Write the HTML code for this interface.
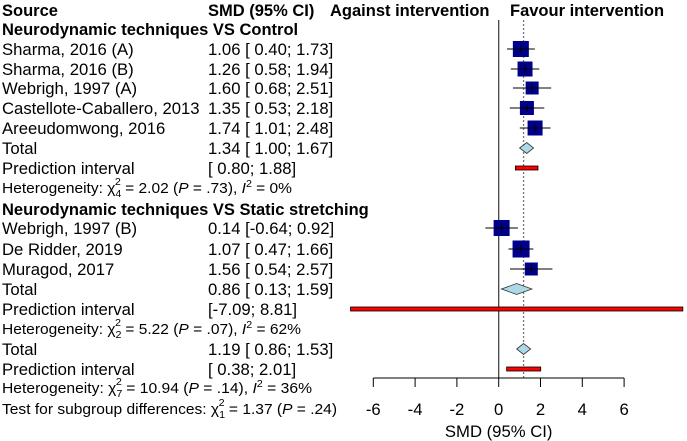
<!DOCTYPE html>
<html><head><meta charset="utf-8"><style>
html,body{margin:0;padding:0;background:#fff;}
svg{display:block;font-family:"Liberation Sans",Arial,sans-serif;}
.t{font-size:16.7px;fill:#000;}
.b{font-size:16.5px;font-weight:bold;fill:#000;}
.s{font-size:14.5px;fill:#000;}
</style></head><body>
<svg id="plot" width="687" height="441" viewBox="0 0 687 441">
<g id="texts"></g>
<g id="marks"></g>
</svg>
<script>
const studyLabels=["Sharma, 2016 (A)","Sharma, 2016 (B)","Webrigh, 1997 (A)","Castellote-Caballero, 2013","Areeudomwong, 2016","Webrigh, 1997 (B)","De Ridder, 2019","Muragod, 2017"];
const studyEst=[1.06,1.26,1.60,1.35,1.74,0.14,1.07,1.56];
const studyLo=[0.40,0.58,0.68,0.53,1.01,-0.64,0.47,0.54];
const studyHi=[1.73,1.94,2.51,2.18,2.48,0.92,1.66,2.57];
const studySize=[16,15,13,14,15,16,17,13];
const studyRowY=[49,69,88,108,128,228,249,269];
const totalEst=[1.34,0.86,1.19];
const totalLo=[1.00,0.13,0.86];
const totalHi=[1.67,1.59,1.53];
const totalRowY=[148,289,349];
const piLo=[0.80,-7.09,0.38];
const piHi=[1.88,8.81,2.01];
const piRowY=[168,309,369];
const overall=1.19;
const ticks=[-6,-4,-2,0,2,4,6];

const NS="http://www.w3.org/2000/svg";
const X0=498.7, SC=20.9, CX=208;
const xs=v=>X0+v*SC;
const T=document.getElementById('texts'), M=document.getElementById('marks');
function el(parent,tag,attrs){const e=document.createElementNS(NS,tag);for(const k in attrs)e.setAttribute(k,attrs[k]);parent.appendChild(e);return e;}
function txt(x,y,cls,str,name){const e=el(T,'text',{x:x,y:y,class:cls});e.innerHTML=str;


return e;}
function het(x,y,len,str,name){const e=el(T,'text',{x:x,y:y,class:'s',textLength:len,lengthAdjust:'spacingAndGlyphs'});e.innerHTML=str;


return e;}
const f=v=>(v<0?'':' ')+v.toFixed(2);
const ci=(e,l,h)=>e.toFixed(2)+' ['+f(l)+'; '+h.toFixed(2)+']';

txt(2,16,'b','Source','source-header');
txt(CX,16,'b','SMD (95% CI)','smd-header');
txt(330,16,'b','Against intervention','against-label');
txt(510,16,'b','Favour intervention','favour-label');
txt(2,35,'b','Neurodynamic techniques VS Control','group1-header');
txt(2,215,'b','Neurodynamic techniques VS Static stretching','group2-header');
studyLabels.forEach((s,i)=>{
 txt(2,studyRowY[i]+6,'t',s,'study-label');
 txt(CX,studyRowY[i]+6,'t',ci(studyEst[i],studyLo[i],studyHi[i]),'study-ci');
});
totalRowY.forEach((y,i)=>{
 txt(2,y+6,'t','Total','total-label');
 txt(CX,y+6,'t',ci(totalEst[i],totalLo[i],totalHi[i]),'total-ci');
 txt(2,piRowY[i]+6,'t','Prediction interval','pi-label');
 txt(CX,piRowY[i]+6,'t','['+f(piLo[i])+'; '+piHi[i].toFixed(2)+']','pi-ci');
});
het(2,193,290,'Heterogeneity: &#967;<tspan dy="4" font-size="10">4</tspan><tspan dx="-6" dy="-12" font-size="10">2</tspan><tspan dy="8"> = 2.02 (</tspan><tspan font-style="italic">P</tspan> = .73), <tspan font-style="italic">I</tspan><tspan dy="-6" font-size="10">2</tspan><tspan dy="6"> = 0%</tspan>','heterogeneity-1');
het(2,334,299,'Heterogeneity: &#967;<tspan dy="4" font-size="10">2</tspan><tspan dx="-6" dy="-12" font-size="10">2</tspan><tspan dy="8"> = 5.22 (</tspan><tspan font-style="italic">P</tspan> = .07), <tspan font-style="italic">I</tspan><tspan dy="-6" font-size="10">2</tspan><tspan dy="6"> = 62%</tspan>','heterogeneity-2');
het(2,393,310,'Heterogeneity: &#967;<tspan dy="4" font-size="10">7</tspan><tspan dx="-6" dy="-12" font-size="10">2</tspan><tspan dy="8"> = 10.94 (</tspan><tspan font-style="italic">P</tspan> = .14), <tspan font-style="italic">I</tspan><tspan dy="-6" font-size="10">2</tspan><tspan dy="6"> = 36%</tspan>','heterogeneity-overall');
het(2,414,335,'Test for subgroup differences: &#967;<tspan dy="4" font-size="10">1</tspan><tspan dx="-6" dy="-12" font-size="10">2</tspan><tspan dy="8"> = 1.37 (</tspan><tspan font-style="italic">P</tspan> = .24)','subgroup-test');

let z=el(M,'line',{x1:xs(0),x2:xs(0),y1:20,y2:378,stroke:'#444','stroke-width':1.3});


let d=el(M,'line',{x1:xs(overall),x2:xs(overall),y1:20,y2:378,stroke:'#777','stroke-width':1.3,'stroke-dasharray':'2,2'});


let ax=el(M,'line',{x1:xs(ticks[0]),x2:xs(ticks[ticks.length-1]),y1:378,y2:378,stroke:'#000','stroke-width':1});


ticks.forEach(t=>{
 const l=el(M,'line',{x1:xs(t),x2:xs(t),y1:378,y2:387,stroke:'#000','stroke-width':1});
 
 
 const tx=el(M,'text',{x:xs(t),y:415,'text-anchor':'middle',class:'t'});tx.textContent=t;
 
 
});
const at=el(M,'text',{x:xs(0),y:437,'text-anchor':'middle',class:'t'});at.textContent='SMD (95% CI)';


studyEst.forEach((e,i)=>{
 const y=studyRowY[i],s=studySize[i];
 const r=el(M,'rect',{x:xs(e)-s/2,y:y-s/2,width:s,height:s,fill:'#00008b'});
 
 
 const c=el(M,'line',{x1:xs(e),x2:xs(e),y1:y-4,y2:y+4,stroke:'#000','stroke-width':1});
 
 
 const w=el(M,'line',{x1:xs(studyLo[i]),x2:xs(studyHi[i]),y1:y,y2:y,stroke:'#000','stroke-width':1});
 
 
});
totalEst.forEach((e,i)=>{
 const y=totalRowY[i];
 const p=el(M,'polygon',{points:`${xs(totalLo[i])},${y} ${xs(e)},${y-5.5} ${xs(totalHi[i])},${y} ${xs(e)},${y+5.5}`,fill:'#add8e6',stroke:'#333','stroke-width':0.8});
 
 
 const py=piRowY[i];
 const r=el(M,'rect',{x:xs(piLo[i]),y:py-2,width:xs(piHi[i])-xs(piLo[i]),height:4,fill:'#ff0000',stroke:'#000','stroke-width':0.8});
 
 
});
</script>
</body></html>
